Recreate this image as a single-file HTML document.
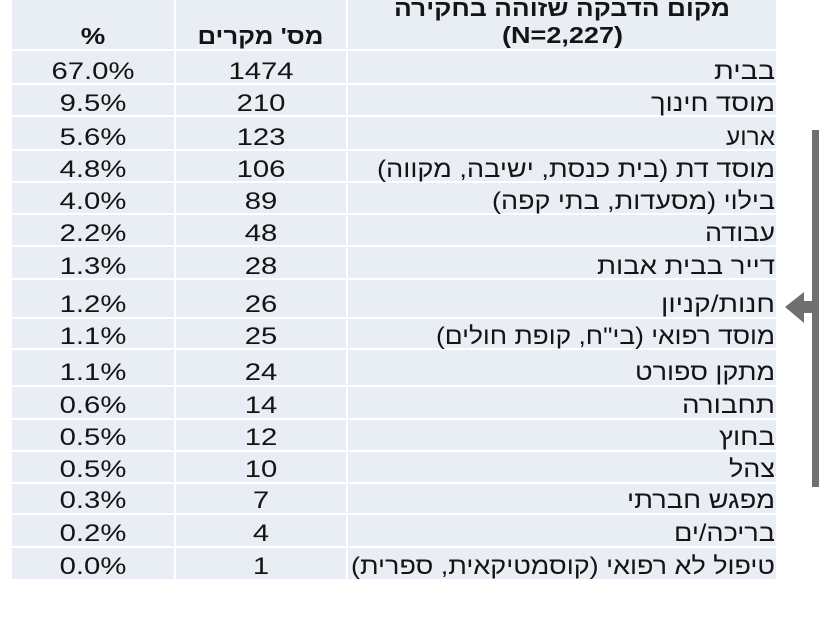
<!DOCTYPE html>
<html><head><meta charset="utf-8"><style>
html,body{margin:0;padding:0;background:#fff;}
svg{display:block;}
text{font-family:"Liberation Sans","DejaVu Sans",Arial,sans-serif;fill:#141414;font-size:24px;}
.b{font-weight:bold;font-size:23px;}
</style></head><body>
<svg width="820" height="621" viewBox="0 0 820 621" xmlns="http://www.w3.org/2000/svg">
<rect x="0" y="0" width="820" height="621" fill="#fff"/>
<g fill="#e9edf4">
<rect x="12" y="0" width="162" height="49"/><rect x="176" y="0" width="170" height="49"/><rect x="348" y="0" width="428" height="49"/>
<rect x="12" y="51" width="162" height="32"/><rect x="176" y="51" width="170" height="32"/><rect x="348" y="51" width="428" height="32"/>
<rect x="12" y="85" width="162" height="30"/><rect x="176" y="85" width="170" height="30"/><rect x="348" y="85" width="428" height="30"/>
<rect x="12" y="117" width="162" height="32"/><rect x="176" y="117" width="170" height="32"/><rect x="348" y="117" width="428" height="32"/>
<rect x="12" y="151" width="162" height="30"/><rect x="176" y="151" width="170" height="30"/><rect x="348" y="151" width="428" height="30"/>
<rect x="12" y="183" width="162" height="30"/><rect x="176" y="183" width="170" height="30"/><rect x="348" y="183" width="428" height="30"/>
<rect x="12" y="215" width="162" height="30"/><rect x="176" y="215" width="170" height="30"/><rect x="348" y="215" width="428" height="30"/>
<rect x="12" y="247" width="162" height="31"/><rect x="176" y="247" width="170" height="31"/><rect x="348" y="247" width="428" height="31"/>
<rect x="12" y="280" width="162" height="37"/><rect x="176" y="280" width="170" height="37"/><rect x="348" y="280" width="428" height="37"/>
<rect x="12" y="319" width="162" height="29"/><rect x="176" y="319" width="170" height="29"/><rect x="348" y="319" width="428" height="29"/>
<rect x="12" y="350" width="162" height="35"/><rect x="176" y="350" width="170" height="35"/><rect x="348" y="350" width="428" height="35"/>
<rect x="12" y="387" width="162" height="31"/><rect x="176" y="387" width="170" height="31"/><rect x="348" y="387" width="428" height="31"/>
<rect x="12" y="420" width="162" height="30"/><rect x="176" y="420" width="170" height="30"/><rect x="348" y="420" width="428" height="30"/>
<rect x="12" y="452" width="162" height="30"/><rect x="176" y="452" width="170" height="30"/><rect x="348" y="452" width="428" height="30"/>
<rect x="12" y="484" width="162" height="29"/><rect x="176" y="484" width="170" height="29"/><rect x="348" y="484" width="428" height="29"/>
<rect x="12" y="515" width="162" height="31"/><rect x="176" y="515" width="170" height="31"/><rect x="348" y="515" width="428" height="31"/>
<rect x="12" y="548" width="162" height="31"/><rect x="176" y="548" width="170" height="31"/><rect x="348" y="548" width="428" height="31"/>
</g>

<rect x="812" y="130" width="7" height="357" fill="#707070"/>
<polygon points="785,307 804,292 804,301 813,301 813,313 804,313 804,323" fill="#707070"/>

<text class="b" text-anchor="middle" transform="translate(93,44) scale(1.2,1)">%</text>
<text class="b" x="260.5" y="44" text-anchor="middle" direction="rtl" unicode-bidi="embed" textLength="126" lengthAdjust="spacingAndGlyphs">מס' מקרים</text>
<text class="b" x="562" y="16" text-anchor="middle" direction="rtl" unicode-bidi="embed" textLength="336" lengthAdjust="spacingAndGlyphs">מקום הדבקה שזוהה בחקירה</text>
<text class="b" x="562.5" y="43" text-anchor="middle" textLength="121" lengthAdjust="spacingAndGlyphs">(N=2,227)</text>

<g text-anchor="middle">
<text transform="translate(93,79) scale(1.22,1)">67.0%</text>
<text transform="translate(93,111) scale(1.22,1)">9.5%</text>
<text transform="translate(93,145) scale(1.22,1)">5.6%</text>
<text transform="translate(93,177) scale(1.22,1)">4.8%</text>
<text transform="translate(93,209) scale(1.22,1)">4.0%</text>
<text transform="translate(93,241) scale(1.22,1)">2.2%</text>
<text transform="translate(93,274) scale(1.22,1)">1.3%</text>
<text transform="translate(93,312) scale(1.22,1)">1.2%</text>
<text transform="translate(93,344) scale(1.22,1)">1.1%</text>
<text transform="translate(93,380) scale(1.22,1)">1.1%</text>
<text transform="translate(93,413) scale(1.22,1)">0.6%</text>
<text transform="translate(93,445) scale(1.22,1)">0.5%</text>
<text transform="translate(93,477) scale(1.22,1)">0.5%</text>
<text transform="translate(93,508) scale(1.22,1)">0.3%</text>
<text transform="translate(93,541) scale(1.22,1)">0.2%</text>
<text transform="translate(93,574) scale(1.22,1)">0.0%</text>
</g>

<g text-anchor="middle">
<text transform="translate(261,79) scale(1.22,1)">1474</text>
<text transform="translate(261,111) scale(1.22,1)">210</text>
<text transform="translate(261,145) scale(1.22,1)">123</text>
<text transform="translate(261,177) scale(1.22,1)">106</text>
<text transform="translate(261,209) scale(1.22,1)">89</text>
<text transform="translate(261,241) scale(1.22,1)">48</text>
<text transform="translate(261,274) scale(1.22,1)">28</text>
<text transform="translate(261,312) scale(1.22,1)">26</text>
<text transform="translate(261,344) scale(1.22,1)">25</text>
<text transform="translate(261,380) scale(1.22,1)">24</text>
<text transform="translate(261,413) scale(1.22,1)">14</text>
<text transform="translate(261,445) scale(1.22,1)">12</text>
<text transform="translate(261,477) scale(1.22,1)">10</text>
<text transform="translate(261,508) scale(1.22,1)">7</text>
<text transform="translate(261,541) scale(1.22,1)">4</text>
<text transform="translate(261,574) scale(1.22,1)">1</text>
</g>

<g text-anchor="middle" direction="rtl" unicode-bidi="embed">
<text x="744.5" y="79" direction="rtl" textLength="61" lengthAdjust="spacingAndGlyphs">בבית</text>
<text x="713" y="111" direction="rtl" textLength="124" lengthAdjust="spacingAndGlyphs">מוסד חינוך</text>
<text x="750.5" y="145" direction="rtl" textLength="49" lengthAdjust="spacingAndGlyphs">ארוע</text>
<text x="576" y="177" direction="rtl" textLength="398" lengthAdjust="spacingAndGlyphs">מוסד דת (בית כנסת, ישיבה, מקווה)</text>
<text x="633.5" y="209" direction="rtl" textLength="283" lengthAdjust="spacingAndGlyphs">בילוי (מסעדות, בתי קפה)</text>
<text x="740" y="241" direction="rtl" textLength="70" lengthAdjust="spacingAndGlyphs">עבודה</text>
<text x="686" y="274" direction="rtl" textLength="178" lengthAdjust="spacingAndGlyphs">דייר בבית אבות</text>
<text x="718" y="312" direction="rtl" textLength="114" lengthAdjust="spacingAndGlyphs">חנות/קניון</text>
<text x="605.5" y="344" direction="rtl" textLength="339" lengthAdjust="spacingAndGlyphs">מוסד רפואי (בי"ח, קופת חולים)</text>
<text x="705" y="380" direction="rtl" textLength="140" lengthAdjust="spacingAndGlyphs">מתקן ספורט</text>
<text x="728.5" y="413" direction="rtl" textLength="93" lengthAdjust="spacingAndGlyphs">תחבורה</text>
<text x="747" y="445" direction="rtl" textLength="56" lengthAdjust="spacingAndGlyphs">בחוץ</text>
<text x="752" y="477" direction="rtl" textLength="46" lengthAdjust="spacingAndGlyphs">צהל</text>
<text x="701" y="508" direction="rtl" textLength="148" lengthAdjust="spacingAndGlyphs">מפגש חברתי</text>
<text x="724.5" y="541" direction="rtl" textLength="101" lengthAdjust="spacingAndGlyphs">בריכה/ים</text>
<text x="563" y="574" direction="rtl" textLength="424" lengthAdjust="spacingAndGlyphs">טיפול לא רפואי (קוסמטיקאית, ספרית)</text>
</g>
</svg>
</body></html>
